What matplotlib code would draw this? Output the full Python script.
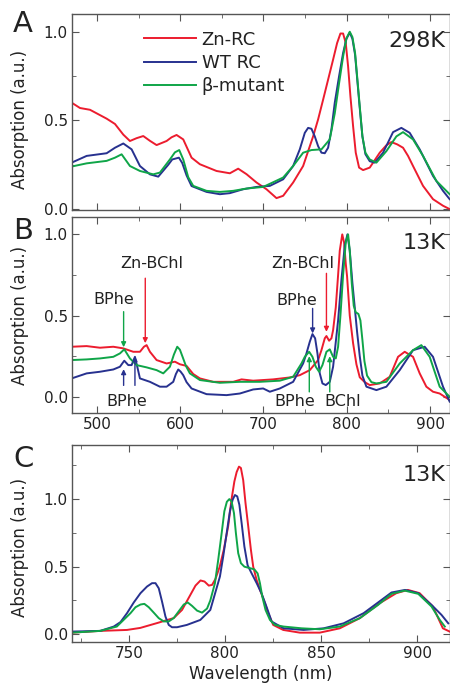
import numpy as np
import matplotlib.pyplot as plt
from matplotlib.ticker import MultipleLocator

# ---- Panel A (298K) ----
a_red_x = [469.6, 479.6, 491.6, 499.6, 511.6, 521.6, 531.6, 539.6, 547.6, 555.6, 563.6, 571.6, 583.6,
           589.6, 595.6, 603.6, 613.6, 623.6, 643.6, 659.6, 669.6, 679.6, 691.6, 703.6, 715.6, 723.6,
           735.6, 747.6, 759.6, 765.6, 771.6, 777.6, 783.6, 788.4, 792.4, 795.6, 798.8, 801.6, 804.4,
           807.6, 810.8, 814.8, 819.6, 827.6, 839.6, 847.6, 853.6, 860.6, 867.6, 873.6, 879.6, 891.6,
           903.6, 915.6, 923.6]
a_red_y = [0.60, 0.57, 0.56, 0.54, 0.51, 0.48, 0.42, 0.384, 0.40, 0.412, 0.385, 0.361, 0.384,
           0.405, 0.418, 0.393, 0.29, 0.253, 0.215, 0.202, 0.228, 0.197, 0.15, 0.112, 0.062, 0.075,
           0.15, 0.243, 0.41, 0.506, 0.617, 0.73, 0.843, 0.936, 0.99, 0.99, 0.936, 0.805, 0.636,
           0.468, 0.318, 0.234, 0.22, 0.234, 0.318, 0.36, 0.378, 0.365, 0.346, 0.30, 0.243, 0.131,
           0.056, 0.019, 0.0]

a_blue_x = [469.6, 487.6, 511.6, 521.6, 531.6, 541.6, 551.6, 563.6, 573.6, 585.6, 590.4, 598.4, 602.4,
            607.6, 613.6, 631.6, 647.6, 659.6, 675.6, 691.6, 707.6, 723.6, 735.6, 743.6, 749.6, 753.6,
            757.6, 761.6, 765.6, 769.6, 773.6, 777.6, 781.6, 785.6, 790.8, 795.6, 799.6, 803.6, 806.8,
            810.0, 812.8, 815.6, 818.8, 822.4, 827.6, 833.6, 843.6, 855.6, 865.6, 875.6, 887.6, 903.6,
            915.6, 923.6]
a_blue_y = [0.262, 0.30, 0.315, 0.346, 0.37, 0.337, 0.243, 0.196, 0.183, 0.25, 0.28, 0.29, 0.26,
            0.19, 0.13, 0.097, 0.084, 0.09, 0.112, 0.125, 0.131, 0.168, 0.243, 0.337, 0.43, 0.458,
            0.453, 0.41, 0.355, 0.318, 0.315, 0.346, 0.45, 0.6, 0.75, 0.88, 0.96, 0.995, 0.96,
            0.87, 0.72, 0.57, 0.41, 0.31, 0.27, 0.262, 0.318, 0.434, 0.458, 0.43, 0.337, 0.187,
            0.103, 0.056]

a_green_x = [469.6, 487.6, 511.6, 521.6, 529.6, 539.6, 551.6, 567.6, 575.6, 587.6, 593.6, 598.8, 603.6,
             609.6, 615.6, 631.6, 647.6, 663.6, 679.6, 699.6, 723.6, 735.6, 747.6, 757.6, 769.6, 779.6,
             785.6, 790.8, 795.6, 799.6, 803.6, 806.8, 810.0, 812.8, 815.6, 818.8, 822.4, 827.6, 835.6,
             847.6, 859.6, 867.6, 879.6, 891.6, 907.6, 923.6]
a_green_y = [0.24, 0.258, 0.272, 0.29, 0.309, 0.243, 0.215, 0.196, 0.206, 0.28, 0.32, 0.333, 0.28,
             0.18, 0.131, 0.103, 0.097, 0.103, 0.116, 0.125, 0.178, 0.243, 0.318, 0.333, 0.337, 0.393,
             0.54, 0.71, 0.86, 0.963, 1.0, 0.97, 0.88, 0.73, 0.58, 0.41, 0.318, 0.28, 0.262,
             0.327, 0.41, 0.434, 0.393, 0.30, 0.159, 0.084]

# ---- Panel B (13K) ----
b_red_x = [469.6, 487.6, 503.6, 519.6, 531.6, 543.6, 551.6, 556.4, 559.6, 563.6, 571.6, 583.6, 593.6,
           599.6, 607.6, 615.6, 623.6, 639.6, 663.6, 673.6, 687.6, 711.6, 731.6, 743.6, 755.6, 765.6,
           769.6, 773.6, 775.6, 778.8, 781.6, 783.6, 786.8, 789.6, 791.6, 794.6, 796.8, 798.8, 800.4,
           803.6, 807.6, 811.6, 815.6, 821.6, 827.6, 839.6, 851.6, 861.6, 869.6, 879.6, 887.6, 895.6,
           903.6, 911.6, 923.6]
b_red_y = [0.308, 0.312, 0.302, 0.308, 0.298, 0.277, 0.277, 0.308, 0.318, 0.277, 0.226, 0.205, 0.216,
           0.2, 0.19, 0.14, 0.113, 0.092, 0.092, 0.107, 0.099, 0.107, 0.119, 0.133, 0.164, 0.226,
           0.287, 0.36, 0.374, 0.345, 0.36, 0.41, 0.55, 0.75, 0.9, 1.0, 0.95, 0.82, 0.74,
           0.5, 0.33, 0.2, 0.12, 0.09, 0.072, 0.082, 0.123, 0.246, 0.277, 0.246, 0.144, 0.062,
           0.031, 0.02, -0.02]

b_blue_x = [469.6, 487.6, 503.6, 519.6, 527.6, 532.8, 537.6, 541.6, 545.6, 548.4, 551.6, 563.6, 575.6,
            583.6, 591.6, 594.8, 597.6, 600.4, 603.6, 607.6, 613.6, 631.6, 655.6, 671.6, 687.6, 699.6,
            707.6, 719.6, 735.6, 747.6, 751.6, 755.6, 758.8, 762.0, 764.8, 767.6, 770.8, 774.8, 779.6,
            783.6, 789.6, 793.6, 797.6, 800.8, 803.6, 806.8, 809.6, 812.4, 815.6, 818.8, 823.6, 835.6,
            847.6, 863.6, 879.6, 893.6, 903.6, 915.6, 923.6]
b_blue_y = [0.113, 0.144, 0.154, 0.168, 0.185, 0.222, 0.195, 0.195, 0.246, 0.185, 0.113, 0.092, 0.062,
            0.062, 0.092, 0.14, 0.168, 0.155, 0.133, 0.09, 0.051, 0.016, 0.01, 0.02, 0.045, 0.051,
            0.031, 0.051, 0.092, 0.205, 0.267, 0.339, 0.386, 0.36, 0.267, 0.144, 0.082, 0.072, 0.092,
            0.185, 0.47, 0.72, 0.93, 1.0, 0.9, 0.7, 0.55, 0.4, 0.25, 0.13, 0.062, 0.041,
            0.062, 0.164, 0.287, 0.308, 0.246, 0.062, -0.03]

b_green_x = [469.6, 487.6, 503.6, 519.6, 527.6, 532.8, 539.6, 547.6, 559.6, 571.6, 579.6, 587.6, 592.4,
             596.4, 599.6, 602.8, 606.8, 611.6, 623.6, 647.6, 671.6, 695.6, 719.6, 735.6, 745.6, 749.6,
             754.8, 758.8, 762.8, 766.8, 770.8, 775.6, 779.6, 783.6, 786.8, 789.6, 792.4, 795.6, 798.8,
             801.6, 803.6, 806.0, 808.4, 810.8, 814.0, 816.4, 818.8, 821.2, 824.4, 829.6, 835.6, 847.6,
             863.6, 879.6, 889.6, 899.6, 911.6, 923.6]
b_green_y = [0.226, 0.23, 0.236, 0.246, 0.267, 0.292, 0.236, 0.195, 0.181, 0.164, 0.144, 0.185, 0.26,
             0.308, 0.29, 0.246, 0.19, 0.144, 0.103, 0.086, 0.092, 0.092, 0.099, 0.123, 0.205, 0.246,
             0.277, 0.246, 0.185, 0.154, 0.195, 0.277, 0.292, 0.246, 0.236, 0.308, 0.5, 0.75, 0.95,
             1.0, 0.9, 0.7, 0.56, 0.52, 0.51, 0.47, 0.35, 0.22, 0.13, 0.09, 0.082, 0.092,
             0.205, 0.287, 0.318, 0.246, 0.062, 0.0]

# ---- Panel C (13K, Qy region) ----
c_red_x = [720.5, 735.2, 749.1, 756.0, 765.0, 773.4, 777.7, 781.2, 784.7, 787.3, 789.4, 791.6, 793.3,
           795.1, 797.3, 799.4, 801.7, 803.4, 804.9, 806.1, 807.3, 808.3, 809.5, 810.7, 812.1, 813.5,
           814.7, 816.5, 818.2, 820.8, 822.5, 825.1, 830.3, 838.9, 849.3, 859.7, 870.1, 880.5, 889.1,
           895.1, 901.2, 908.1, 913.3, 916.8]
c_red_y = [0.012, 0.025, 0.032, 0.047, 0.084, 0.12, 0.18, 0.27, 0.36, 0.398, 0.39, 0.36, 0.365,
           0.41, 0.5, 0.625, 0.8, 0.995, 1.13, 1.2, 1.24, 1.23, 1.14, 0.97, 0.80, 0.625,
           0.50, 0.40, 0.33, 0.23, 0.156, 0.069, 0.032, 0.012, 0.012, 0.044, 0.119, 0.23, 0.304,
           0.328, 0.304, 0.205, 0.044, 0.02]

c_blue_x = [720.5, 735.2, 742.2, 745.7, 749.1, 752.6, 756.1, 759.5, 762.1, 763.9, 765.6, 767.3, 769.1,
            770.8, 772.5, 775.1, 780.2, 787.2, 792.4, 797.4, 799.1, 800.9, 802.6, 804.0, 805.2, 806.4,
            807.5, 808.7, 810.1, 811.8, 813.9, 816.5, 819.1, 821.7, 824.3, 830.5, 840.9, 851.3, 861.7,
            872.1, 881.4, 886.6, 893.6, 900.5, 907.4, 912.6, 916.1]
c_blue_y = [0.02, 0.025, 0.057, 0.09, 0.156, 0.235, 0.304, 0.353, 0.378, 0.378, 0.34, 0.242, 0.13,
            0.069, 0.052, 0.052, 0.069, 0.106, 0.18, 0.427, 0.575, 0.748, 0.91, 0.995, 1.03, 1.02,
            0.958, 0.82, 0.65, 0.51, 0.45, 0.378, 0.30, 0.2, 0.094, 0.044, 0.032, 0.044, 0.081,
            0.156, 0.254, 0.309, 0.328, 0.304, 0.217, 0.143, 0.081]

c_green_x = [720.5, 735.2, 743.8, 750.9, 753.5, 756.1, 758.1, 760.4, 763.0, 765.6, 768.2, 770.8, 773.4,
             776.0, 778.6, 780.7, 782.9, 785.5, 788.1, 790.7, 792.4, 794.8, 796.5, 798.3, 799.7, 801.0,
             802.3, 803.5, 804.7, 805.7, 806.9, 808.3, 810.1, 813.0, 815.3, 817.0, 818.2, 819.4, 821.1,
             823.4, 826.0, 830.5, 839.9, 849.3, 859.7, 870.1, 879.6, 886.6, 893.4, 900.5, 907.4, 911.7,
             914.3]
c_green_y = [0.012, 0.025, 0.057, 0.156, 0.2, 0.22, 0.225, 0.2, 0.16, 0.119, 0.095, 0.095, 0.12,
             0.17, 0.22, 0.235, 0.21, 0.175, 0.16, 0.19, 0.25, 0.378, 0.55, 0.748, 0.91, 0.98,
             1.0, 0.98, 0.896, 0.748, 0.6, 0.526, 0.50, 0.489, 0.48, 0.45, 0.378, 0.28, 0.18,
             0.106, 0.069, 0.057, 0.044, 0.037, 0.057, 0.119, 0.217, 0.299, 0.323, 0.299, 0.205, 0.106,
             0.057]

red = '#ec1c2e'
blue = '#27318f'
green = '#0fa548'
axcol = '#555555'
txtcol = '#222222'

plt.rcParams['font.family'] = 'DejaVu Sans'

fig = plt.figure(figsize=(4.5, 6.94), dpi=100)
W, H = 450.0, 694.0


def make_ax(top, bottom):
    return fig.add_axes([72 / W, 1 - bottom / H, (450 - 72) / W, (bottom - top) / H])


def style(ax):
    for s in ax.spines.values():
        s.set_color(axcol)
        s.set_linewidth(1.0)
    ax.tick_params(which='both', direction='in', top=True, right=True, color=axcol,
                   labelsize=11, labelcolor=txtcol, pad=3)
    ax.tick_params(which='major', length=5)
    ax.tick_params(which='minor', length=3)


lw = 1.4

# Panel A
axA = make_ax(14, 210)
axA.plot(a_red_x, a_red_y, color=red, lw=lw, label='Zn-RC')
axA.plot(a_blue_x, a_blue_y, color=blue, lw=lw, label='WT RC')
axA.plot(a_green_x, a_green_y, color=green, lw=lw, label='β-mutant')
axA.set_xlim(470, 924)
axA.set_ylim(-0.005, 1.1)
axA.xaxis.set_major_locator(MultipleLocator(100))
axA.xaxis.set_minor_locator(MultipleLocator(50))
axA.yaxis.set_major_locator(MultipleLocator(0.5))
axA.yaxis.set_minor_locator(MultipleLocator(0.25))
axA.tick_params(labelbottom=False)
style(axA)
axA.set_ylabel('Absorption (a.u.)', fontsize=12, color=txtcol)
axA.yaxis.set_label_coords(-0.114, 0.46)
axA.text(0.987, 0.862, '298K', transform=axA.transAxes, ha='right', va='center', fontsize=16, color=txtcol)
leg = axA.legend(loc='upper left', bbox_to_anchor=(0.19, 0.915), frameon=False, fontsize=13,
                 handlelength=2.9, handletextpad=0.3, labelspacing=0.3, borderpad=0, borderaxespad=0)
for t in leg.get_texts():
    t.set_color(txtcol)

# Panel B
axB = make_ax(217, 413)
axB.plot(b_red_x, b_red_y, color=red, lw=lw)
axB.plot(b_blue_x, b_blue_y, color=blue, lw=lw)
axB.plot(b_green_x, b_green_y, color=green, lw=lw)
axB.set_xlim(470, 924)
axB.set_ylim(-0.1, 1.107)
axB.xaxis.set_major_locator(MultipleLocator(100))
axB.xaxis.set_minor_locator(MultipleLocator(50))
axB.yaxis.set_major_locator(MultipleLocator(0.5))
axB.yaxis.set_minor_locator(MultipleLocator(0.25))
style(axB)
axB.set_ylabel('Absorption (a.u.)', fontsize=12, color=txtcol)
axB.yaxis.set_label_coords(-0.114, 0.5)
axB.text(0.987, 0.865, '13K', transform=axB.transAxes, ha='right', va='center', fontsize=16, color=txtcol)

# arrows and labels in panel B: (x, y_from, y_to, color)
arrows_B = [(532, 0.524, 0.305, green), (558, 0.73, 0.33, red),
            (532, 0.07, 0.17, blue), (545.6, 0.07, 0.25, blue),
            (759, 0.544, 0.39, blue), (775.6, 0.76, 0.40, red),
            (755, 0.03, 0.25, green), (779.6, 0.03, 0.25, green)]
for x, y0, y1, c in arrows_B:
    axB.annotate('', xy=(x, y1), xytext=(x, y0),
                 arrowprops=dict(arrowstyle='-|>', color=c, lw=1.0, mutation_scale=7,
                                 shrinkA=0, shrinkB=0))
labels_B = [(519.6, 0.60, 'BPhe'), (565.6, 0.82, 'Zn-BChl'), (535.6, -0.03, 'BPhe'),
            (739.6, 0.59, 'BPhe'), (747.6, 0.82, 'Zn-BChl'), (737.6, -0.03, 'BPhe'),
            (795.6, -0.03, 'BChl')]
for x, y, s in labels_B:
    axB.text(x, y, s, ha='center', va='center', fontsize=11.5, color=txtcol)

# Panel C
axC = make_ax(445, 641.7)
axC.plot(c_red_x, c_red_y, color=red, lw=lw)
axC.plot(c_blue_x, c_blue_y, color=blue, lw=lw)
axC.plot(c_green_x, c_green_y, color=green, lw=lw)
axC.set_xlim(720.5, 917)
axC.set_ylim(-0.055, 1.4)
axC.xaxis.set_major_locator(MultipleLocator(50))
axC.xaxis.set_minor_locator(MultipleLocator(25))
axC.yaxis.set_major_locator(MultipleLocator(0.5))
axC.yaxis.set_minor_locator(MultipleLocator(0.25))
style(axC)
axC.set_ylabel('Absorption (a.u.)', fontsize=12, color=txtcol)
axC.yaxis.set_label_coords(-0.114, 0.48)
axC.set_xlabel('Wavelength (nm)', fontsize=12, color=txtcol, labelpad=3)
axC.text(0.987, 0.847, '13K', transform=axC.transAxes, ha='right', va='center', fontsize=16, color=txtcol)

# panel letters
for letter, y in [('A', 24), ('B', 231), ('C', 459)]:
    fig.text(13 / W, 1 - y / H, letter, ha='left', va='center', fontsize=21, color=txtcol)

plt.savefig('out.png', dpi=100)
